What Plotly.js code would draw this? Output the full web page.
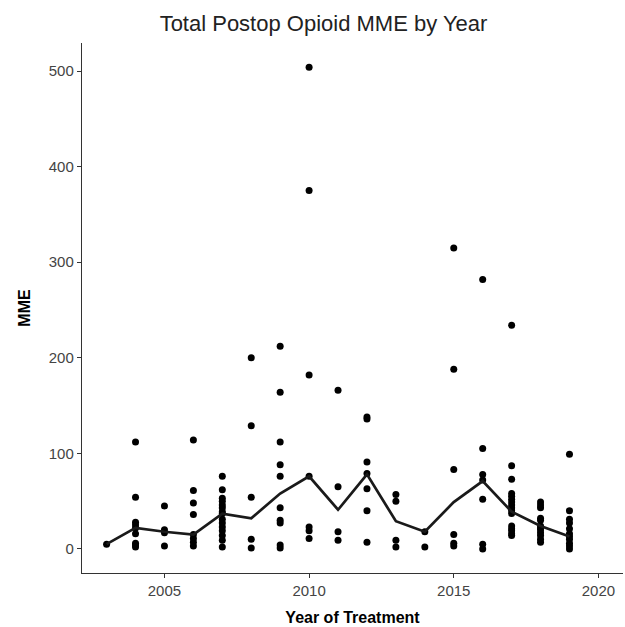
<!DOCTYPE html>
<html>
<head>
<meta charset="utf-8">
<script src="https://cdn.plot.ly/plotly-3.0.1.min.js"></script>
<style>html,body{margin:0;padding:0;background:#fff;}#chart{width:625px;height:627px;}</style>
</head>
<body>
<div id="chart"></div>
<script>
// Year of treatment
const years = [2003,2004,2005,2006,2007,2008,2009,2010,2011,2012,2013,2014,2015,2016,2017,2018,2019];
// Individual MME values per year (same order as years)
const mmeValues = [
  [5],
  [112,54,28,25,22,16,6,4,2],
  [45,20,17,3],
  [114,61,48,36,15,11,7,3],
  [76,62,53,50,46,43,39,37,31,27,23,19,14,9,2],
  [200,129,54,10,1],
  [212,164,112,88,76,43,30,27,4,1],
  [504,375,182,76,23,19,11],
  [166,65,18,9],
  [138,136,91,79,63,40,7],
  [57,50,9,2],
  [18,2],
  [315,188,83,15,6,3],
  [282,105,78,72,52,5,0],
  [234,87,73,58,55,52,49,46,43,40,37,24,21,19,16,14],
  [49,46,43,32,30,24,22,20,17,14,10,7],
  [99,40,31,27,21,16,13,10,6,3,0]
];
// Median MME per year (line)
const medianMME = [5,22,18,15,37,32,58,76,41,78,29,18,49,71,39,24,13];
const xTicks = [2005,2010,2015,2020];
const yTicks = [0,100,200,300,400,500];

const px = [], py = [];
years.forEach((yr,i)=>{ mmeValues[i].forEach(v=>{ px.push(yr); py.push(v); }); });

const font = "Liberation Sans, Arial, Helvetica, sans-serif";
const data = [
  {x: px, y: py, type:'scatter', mode:'markers', marker:{color:'#000', size:7}, hoverinfo:'x+y'},
  {x: years, y: medianMME, type:'scatter', mode:'lines', line:{color:'#1a1a1a', width:2.7}}
];
const layout = {
  width:625, height:627,
  paper_bgcolor:'#fff', plot_bgcolor:'#fff',
  showlegend:false,
  margin:{l:82, r:2, t:43, b:54},
  font:{family:font, color:'#000'},
  title:{text:'Total Postop Opioid MME by Year', font:{size:22, color:'#222', family:font},
         x:0.5176, xref:'container', xanchor:'center', y:0.963, yref:'container', yanchor:'middle'},
  xaxis:{range:[2002.15,2020.85], tickvals:xTicks, ticktext:xTicks.map(String), showgrid:false, zeroline:false,
         showline:true, linecolor:'#333', linewidth:1.2, ticks:'outside', ticklen:4, tickwidth:1.1, tickcolor:'#333',
         tickfont:{size:15, color:'#444'},
         title:{text:'<b>Year of Treatment</b>', font:{size:16, color:'#000'}, standoff:13}},
  yaxis:{range:[-25.2,529.4], tickvals:yTicks, ticktext:yTicks.map(String), showgrid:false, zeroline:false,
         showline:true, linecolor:'#333', linewidth:1.2, ticks:'outside', ticklen:4, tickwidth:1.1, tickcolor:'#333',
         tickfont:{size:15, color:'#444'},
         title:{text:'<b>MME</b>', font:{size:16, color:'#000'}, standoff:14}}
};
Plotly.newPlot('chart', data, layout, {displayModeBar:false, staticPlot:true});
</script>
</body>
</html>
